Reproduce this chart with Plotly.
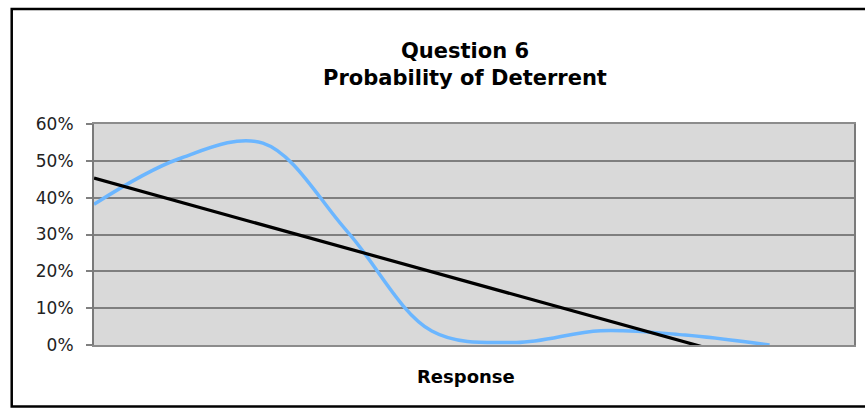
import plotly.graph_objects as go

# ---- data ----
categories = [1, 2, 3, 4, 5, 6, 7, 8, 9, 10]
probability = [0.382, 0.505, 0.548, 0.308, 0.038, 0.007, 0.039, 0.027, 0.0, None]
# Excel linear trendline, read at the first and last category (clipped at 0%)
trend_categories = [1, 10]
trend_values = [0.453, -0.119]
y_ticks = [0, 0.1, 0.2, 0.3, 0.4, 0.5, 0.6]
y_tick_labels = ["0%", "10%", "20%", "30%", "40%", "50%", "60%"]
title_text = "Question 6<br>Probability of Deterrent"
x_title = "Response"

W, H = 865, 409
L, R, T, B = 94, 9, 124, 64
pw, ph = W - L - R, H - T - B


def px_x(p):
    return (p - L) / pw


def px_y(p):
    return (H - B - p) / ph


FONT = "DejaVu Sans, Verdana, sans-serif"

fig = go.Figure()
fig.add_trace(go.Scatter(
    x=categories, y=probability, mode="lines",
    line=dict(color="#6BB6FF", width=3.5, shape="spline", smoothing=1.0),
    connectgaps=False, hoverinfo="skip", showlegend=False,
))
fig.add_trace(go.Scatter(
    x=trend_categories, y=trend_values, mode="lines",
    line=dict(color="#000000", width=3.2),
    hoverinfo="skip", showlegend=False,
))

fig.update_layout(
    width=W, height=H,
    margin=dict(l=L, r=R, t=T, b=B, pad=0),
    paper_bgcolor="white",
    plot_bgcolor="#D9D9D9",
    font=dict(family=FONT, color="#000000"),
    title=dict(
        text="<b>" + title_text.replace("<br>", "</b><br><b>") + "</b>",
        x=465 / W, xref="container", xanchor="center",
        y=1 - 57.5 / H, yref="container", yanchor="middle",
        font=dict(family=FONT, size=21, color="#000000"),
    ),
    xaxis=dict(
        range=[categories[0], categories[-1]],
        showticklabels=False, showgrid=False, zeroline=False,
        ticks="",
        showline=True, linecolor="#8C8C8C", linewidth=2, mirror=True,
    ),
    yaxis=dict(
        range=[0, 0.6],
        tickvals=y_ticks, ticktext=y_tick_labels,
        tickfont=dict(family=FONT, size=17, color="#222222"),
        ticks="outside", ticklen=6, tickcolor="#808080", tickwidth=1.5,
        ticklabelstandoff=9,
        showgrid=True, gridcolor="#7F7F7F", gridwidth=1.5,
        zeroline=False,
        showline=True, linecolor="#7A7A7A", linewidth=2, mirror=True,
    ),
    shapes=[dict(
        type="rect", xref="paper", yref="paper",
        x0=px_x(11.5), x1=px_x(880), y0=px_y(406.5), y1=px_y(9),
        line=dict(color="#000000", width=2.5), fillcolor="rgba(0,0,0,0)",
        layer="above",
    )],
    annotations=[dict(
        text="<b>" + x_title + "</b>", xref="paper", yref="paper",
        x=px_x(467), y=px_y(376), xanchor="center", yanchor="middle",
        showarrow=False, font=dict(family=FONT, size=18, color="#000000"),
    )],
)

fig.write_html(
    "out.html",
    config={"displayModeBar": False},
    post_script="document.body.style.margin='0';document.body.style.overflow='hidden';",
)
